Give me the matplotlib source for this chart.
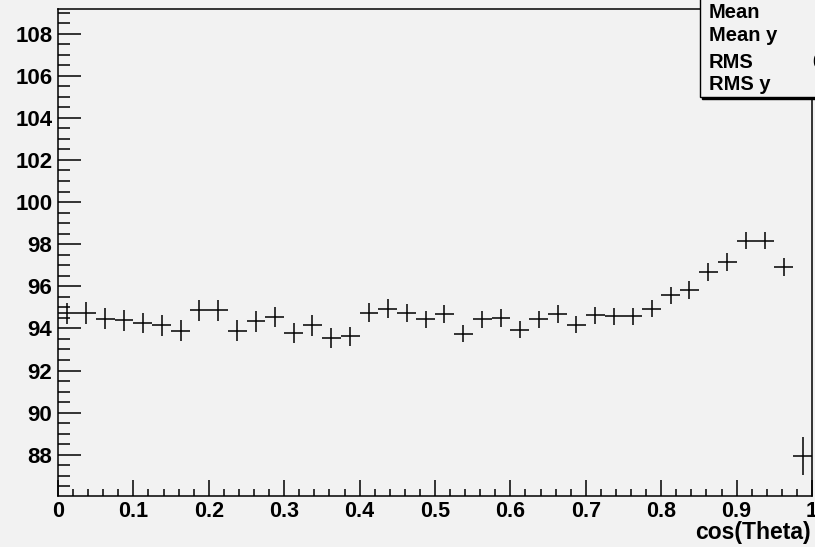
import numpy as np
import matplotlib
matplotlib.use("Agg")
import matplotlib.pyplot as plt
from matplotlib.patches import Rectangle
from matplotlib.ticker import MultipleLocator, FixedLocator

# profile of y vs cos(Theta), 40 bins in [0, 1]
n_bins = 40
x_min, x_max = 0.0, 1.0
means = [94.72, 94.73, 94.46, 94.38, 94.25, 94.14, 93.90, 94.86, 94.86, 93.90,
         94.33, 94.54, 93.78, 94.14, 93.54, 93.62, 94.75, 94.94, 94.72, 94.43,
         94.70, 93.75, 94.43, 94.51, 93.94, 94.43, 94.70, 94.18, 94.62, 94.57,
         94.57, 94.94, 95.57, 95.81, 96.69, 97.17, 98.17, 98.17, 96.90, 87.95]
errors = [0.50, 0.52, 0.50, 0.50, 0.48, 0.50, 0.50, 0.50, 0.50, 0.48,
          0.48, 0.48, 0.48, 0.48, 0.48, 0.45, 0.45, 0.45, 0.43, 0.42,
          0.42, 0.40, 0.42, 0.42, 0.40, 0.42, 0.42, 0.40, 0.40, 0.40,
          0.40, 0.40, 0.42, 0.42, 0.42, 0.42, 0.40, 0.40, 0.43, 0.90]
x_ticks = [0, 0.1, 0.2, 0.3, 0.4, 0.5, 0.6, 0.7, 0.8, 0.9, 1.0]
x_tick_labels = ["0", "0.1", "0.2", "0.3", "0.4", "0.5", "0.6", "0.7", "0.8", "0.9", "1"]
y_ticks = [88, 90, 92, 94, 96, 98, 100, 102, 104, 106, 108]
stat_names = ["Mean", "Mean y", "RMS", "RMS y"]
stat_values = ["", "", "0.2887", ""]

W, H = 815, 547
bg = "#f2f2f2"
font = "Liberation Sans"

edges = np.linspace(x_min, x_max, n_bins + 1)
centers = 0.5 * (edges[:-1] + edges[1:])
half_w = 0.5 * (edges[1] - edges[0])

fig = plt.figure(figsize=(W / 100, H / 100), dpi=100, facecolor=bg)
ax = fig.add_axes([58 / W, 1 - 496 / H, 754 / W, 487 / H], facecolor=bg)

ax.errorbar(centers, means, xerr=half_w, yerr=errors, fmt="none",
            ecolor="black", elinewidth=1.1, capsize=0, clip_on=True)

ax.set_xlim(x_min, x_max)
ax.set_ylim(86.04, 109.17)

for s in ax.spines.values():
    s.set_linewidth(1.1)
    s.set_color("black")

ax.xaxis.set_major_locator(FixedLocator(x_ticks))
ax.xaxis.set_minor_locator(MultipleLocator(0.02))
ax.yaxis.set_major_locator(FixedLocator(y_ticks))
ax.yaxis.set_minor_locator(MultipleLocator(0.5))
ax.set_xticklabels(x_tick_labels, fontfamily=font, fontweight="bold", fontsize=15.5)
ax.set_yticklabels([str(v) for v in y_ticks], fontfamily=font, fontweight="bold", fontsize=16)

ax.tick_params(axis="x", which="major", direction="in", length=11.3, width=1.1, pad=3.5)
ax.tick_params(axis="x", which="minor", direction="in", length=5.3, width=1.1)
ax.tick_params(axis="y", which="major", direction="in", length=16.5, width=1.1, pad=4)
ax.tick_params(axis="y", which="minor", direction="in", length=8.6, width=1.1)
ax.tick_params(top=False, right=False, which="both")

fig.text(811 / W, 1 - 532 / H, "cos(Theta)", ha="right", va="center",
         fontfamily=font, fontweight="bold", fontsize=16.5)

# stats box (cut by the canvas edge)
bx0, by0 = 699.5 / W, 1 - 96.5 / H
shadow = Rectangle((bx0 + 2.5 / W, by0 - 2.5 / H), 1, 1, transform=fig.transFigure,
                   facecolor="black", edgecolor="black", zorder=5)
box = Rectangle((bx0, by0), 1, 1, transform=fig.transFigure,
                facecolor=bg, edgecolor="black", linewidth=1.0, zorder=6)
fig.add_artist(shadow)
fig.add_artist(box)

baselines = [18, 41, 68, 90]
for name, val, yb in zip(stat_names, stat_values, baselines):
    fig.text(709 / W, 1 - yb / H, name, ha="left", va="baseline", zorder=7,
             fontfamily=font, fontweight="bold", fontsize=14.5)
    if val:
        fig.text(812 / W, 1 - yb / H, val, ha="left", va="baseline", zorder=7,
                 fontfamily=font, fontweight="bold", fontsize=14.5)

fig.savefig("out.png", dpi=100, facecolor=bg)
